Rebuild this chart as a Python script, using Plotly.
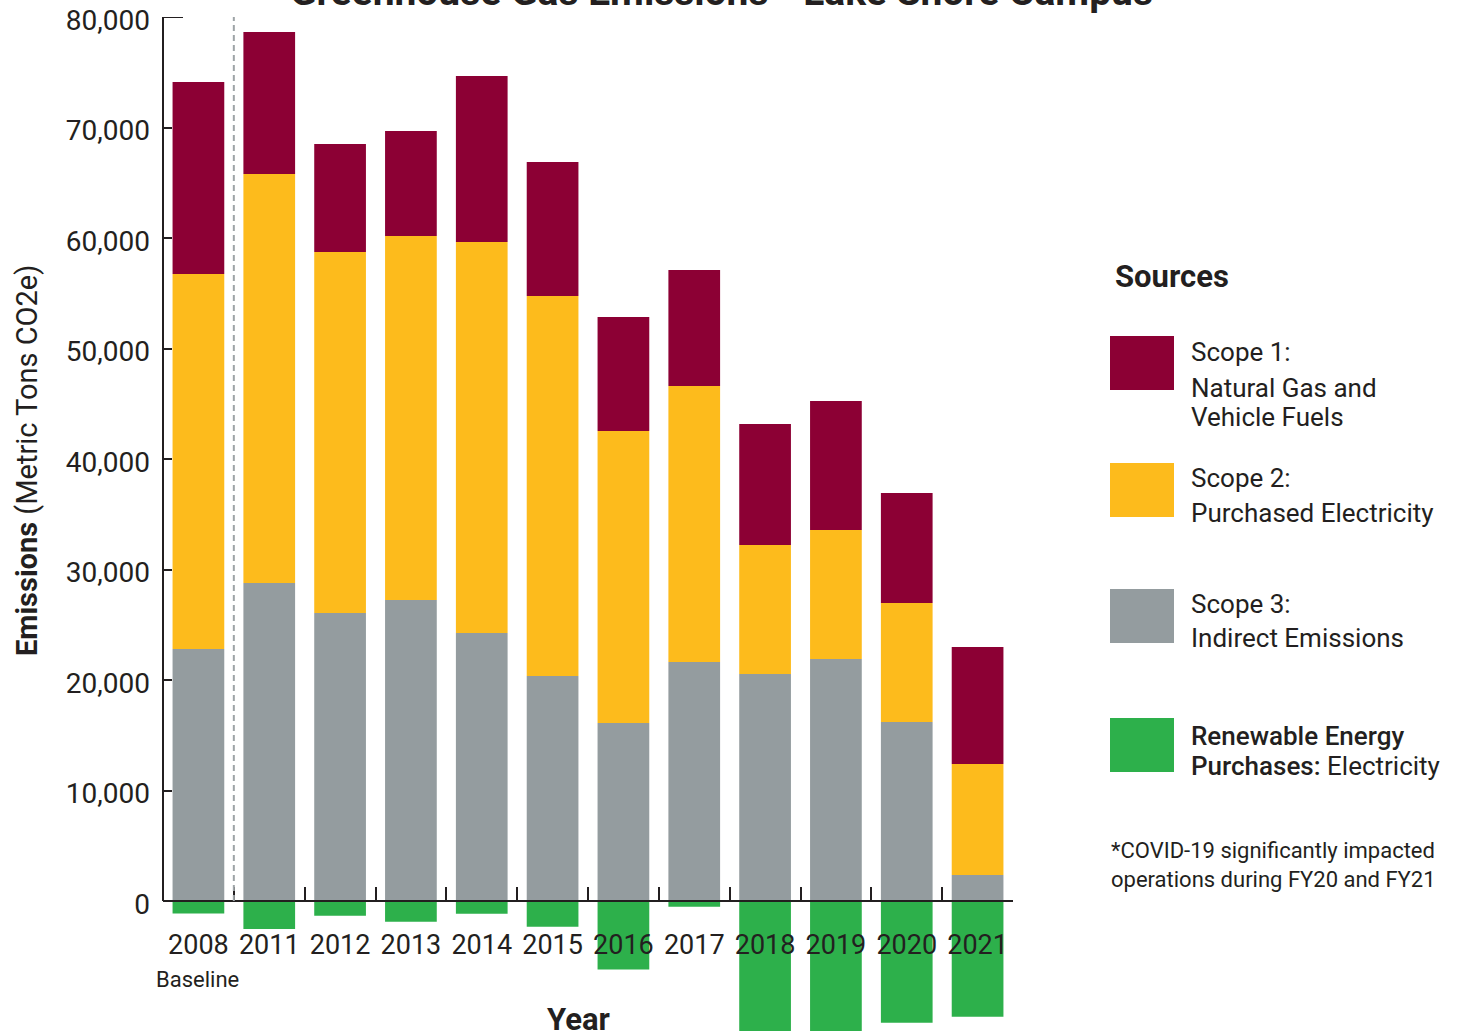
import plotly.graph_objects as go

# ---------------- data ----------------
years = ["2008", "2011", "2012", "2013", "2014", "2015", "2016", "2017", "2018", "2019", "2020", "2021"]
scope3_indirect = [22800, 28780, 26060, 27240, 24250, 20360, 16110, 21630, 20540, 21900, 16200, 2350]
scope2_electricity = [33940, 37010, 32670, 32940, 35390, 34390, 26420, 24980, 11670, 11680, 10770, 10050]
scope1_gas_fuels = [17380, 12850, 9770, 9500, 15020, 12130, 10320, 10500, 10950, 11670, 9960, 10590]
renewable_purchases = [-1130, -2530, -1330, -1870, -1150, -2320, -6210, -510, -12400, -12400, -11010, -10470]
y_tick_values = [0, 10000, 20000, 30000, 40000, 50000, 60000, 70000, 80000]

# ---------------- styling ----------------
RED = "#8C0034"
YELLOW = "#FDBB1C"
GRAY = "#949C9F"
GREEN = "#2DB04B"
INK = "#231F20"
FONT = "Roboto"

W, H = 1465, 1031
ML, MR, MT, MB = 163, 452, 17, 0
PW = W - ML - MR
PH = H - MT - MB
Y_MIN, Y_MAX = -11765, 80000


def px_x(px):
    return (px - ML) / PW


def px_y(px):
    return (H - MB - px) / PH


fig = go.Figure()
fig.add_trace(go.Bar(x=years, y=scope3_indirect, marker=dict(color=GRAY, line=dict(width=0)), name="Scope 3"))
fig.add_trace(go.Bar(x=years, y=scope2_electricity, marker=dict(color=YELLOW, line=dict(width=0)), name="Scope 2"))
fig.add_trace(go.Bar(x=years, y=scope1_gas_fuels, marker=dict(color=RED, line=dict(width=0)), name="Scope 1"))
fig.add_trace(go.Bar(x=years, y=renewable_purchases, marker=dict(color=GREEN, line=dict(width=0)), name="Renewable"))

zero_pos = (0 - Y_MIN) / (Y_MAX - Y_MIN)

fig.update_layout(
    width=W, height=H,
    margin=dict(l=ML, r=MR, t=MT, b=MB, pad=0),
    paper_bgcolor="white", plot_bgcolor="white",
    barmode="relative", bargap=0.27,
    showlegend=False,
    font=dict(family=FONT, color=INK),
    xaxis=dict(
        type="category", range=[-0.5, 11.5],
        anchor="free", position=zero_pos,
        showline=True, linecolor=INK, linewidth=2,
        ticks="inside", tickson="boundaries", ticklen=13, tickwidth=2, tickcolor=INK,
        tickfont=dict(family=FONT, size=27, color=INK),
        tickangle=0,
        ticklabelstandoff=20,
        showgrid=False, zeroline=False,
    ),
    yaxis=dict(
        range=[Y_MIN, Y_MAX],
        tickvals=y_tick_values, tickformat=",",
        ticks="inside", ticklen=9, tickwidth=2, tickcolor=INK,
        tickfont=dict(family=FONT, size=28, color=INK),
        ticklabelstandoff=12,
        ticklabelshift=3,
        showline=False, showgrid=False, zeroline=False,
    ),
)

shapes = []
# left axis line with top cap
shapes.append(dict(type="path", xref="paper", yref="y",
                   path=f"M {px_x(183)},{Y_MAX} L 0,{Y_MAX} L 0,0",
                   line=dict(color=INK, width=2)))
# dashed baseline divider
shapes.append(dict(type="line", xref="x", yref="y", x0=0.5, x1=0.5, y0=0, y1=Y_MAX,
                   line=dict(color="#9EA4A7", width=2, dash="6px,4px")))

# legend swatches
legend_items = [(RED, 336, 390), (YELLOW, 463, 517), (GRAY, 589, 643), (GREEN, 718, 772)]
for col, top, bot in legend_items:
    shapes.append(dict(type="rect", xref="paper", yref="paper",
                       x0=px_x(1110), x1=px_x(1174), y0=px_y(bot), y1=px_y(top),
                       fillcolor=col, line=dict(width=0)))
fig.update_layout(shapes=shapes)

ann = []


def text(t, x_px, baseline_px, size, xanchor="left", bold=False, angle=0, family=FONT):
    mid = baseline_px - 0.345 * size
    ann.append(dict(text=(f"<b>{t}</b>" if bold else t), xref="paper", yref="paper",
                    x=px_x(x_px), y=px_y(mid), xanchor=xanchor, yanchor="middle",
                    showarrow=False, textangle=angle,
                    font=dict(family=family, size=size, color=INK)))


# title (mostly cropped at top)
text("Greenhouse Gas Emissions - Lake Shore Campus", 721, 5, 39, xanchor="center", bold=True)
# x axis title
text("Year", 578, 1030, 31, xanchor="center", bold=True)
# Baseline label
text("Baseline", 197, 987, 22, xanchor="center")
# y axis title
ann.append(dict(text="<b>Emissions</b> (Metric Tons CO2e)", xref="paper", yref="paper",
                x=px_x(27), y=px_y(461), xanchor="center", yanchor="middle",
                textangle=-90, showarrow=False,
                font=dict(family=FONT, size=29, color=INK)))

# legend
text("Sources", 1113, 287, 31, bold=True)
LX = 1189
LS = 26
text("Scope 1:", LX, 361, LS)
text("Natural Gas and", LX, 397, LS)
text("Vehicle Fuels", LX, 426, LS)
text("Scope 2:", LX, 487, LS)
text("Purchased Electricity", LX, 522, LS)
text("Scope 3:", LX, 613, LS)
text("Indirect Emissions", LX, 647, LS)
text("<span style='font-weight:500'>Renewable Energy</span>", LX, 745, LS)
text("<span style='font-weight:500'>Purchases:</span> Electricity", LX, 775, LS)
text("*COVID-19 significantly impacted", 1109, 858, 22)
text("operations during FY20 and FY21", 1109, 887, 22)

fig.update_layout(annotations=ann)

fig.write_html("out.html")
